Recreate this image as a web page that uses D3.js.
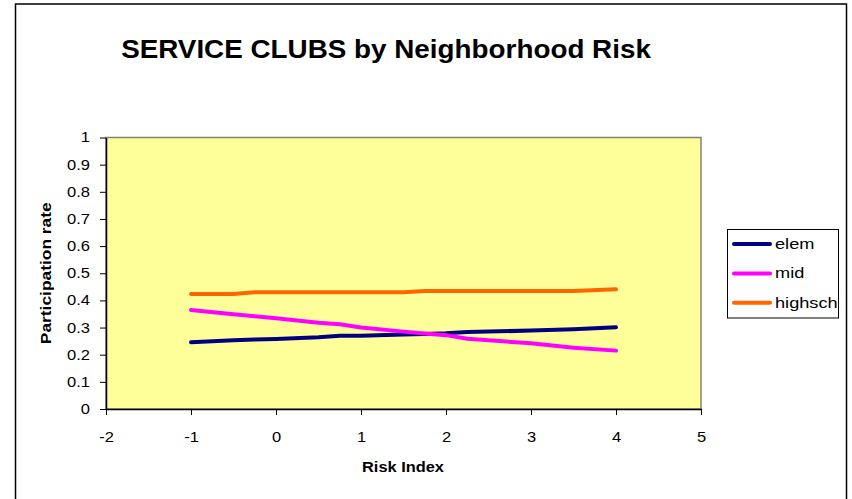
<!DOCTYPE html>
<html>
<head>
<meta charset="utf-8">
<script src="https://cdn.jsdelivr.net/npm/d3@7"></script>
<style>
  html, body { margin: 0; padding: 0; background: #fff; }
  svg { display: block; }
  text { font-family: "Liberation Sans", Arial, sans-serif; }
</style>
</head>
<body>
<svg id="chart" width="852" height="499"></svg>
<script>
const titleText = "SERVICE CLUBS by Neighborhood Risk";
const xLabel = "Risk Index";
const yLabel = "Participation rate";
const seriesNames = ["elem", "mid", "highsch"];
const seriesColors = ["#000080", "#FF00FF", "#FF6600"];
const riskIndex = [-1, -0.5, -0.25, 0, 0.5, 0.75, 1, 1.5, 1.75, 2, 2.25, 2.5, 3, 3.5, 4];
const elem    = [0.246, 0.253, 0.256, 0.258, 0.264, 0.270, 0.270, 0.274, 0.276, 0.279, 0.284, 0.285, 0.289, 0.294, 0.301];
const mid     = [0.365, 0.349, 0.342, 0.334, 0.318, 0.312, 0.300, 0.285, 0.278, 0.272, 0.259, 0.253, 0.242, 0.226, 0.215];
const highsch = [0.424, 0.424, 0.430, 0.430, 0.430, 0.430, 0.430, 0.430, 0.435, 0.435, 0.435, 0.435, 0.435, 0.435, 0.441];
const xTicks = [-2, -1, 0, 1, 2, 3, 4, 5];
const yTicks = [0, 0.1, 0.2, 0.3, 0.4, 0.5, 0.6, 0.7, 0.8, 0.9, 1];

const seriesValues = [elem, mid, highsch];

const svg = d3.select("#chart");

// stretch a text horizontally (in its own frame) to a target length, around its anchor point
function fitLength(sel, target) {
  const len = sel.node().getComputedTextLength();
  return target / len;
}

// outer chart border
svg.append("rect")
  .attr("x", 15.5).attr("y", 4).attr("width", 831).attr("height", 510)
  .attr("fill", "#fff").attr("stroke", "#000").attr("stroke-width", 1.5);

const pLeft = 106, pRight = 701, pTop = 137.5, pBottom = 409;
const x = d3.scaleLinear().domain([-2, 5]).range([pLeft, pRight]);
const y = d3.scaleLinear().domain([0, 1]).range([pBottom, pTop]);

// plot area
svg.append("rect")
  .attr("x", pLeft).attr("y", pTop).attr("width", pRight - pLeft).attr("height", pBottom - pTop)
  .attr("fill", "#FFFF99").attr("stroke", "#808080").attr("stroke-width", 1.5);

// axes
const xAxis = d3.axisBottom(x).tickValues(xTicks).tickFormat(d => String(d)).tickSizeInner(6).tickSizeOuter(0).tickPadding(17);
const yAxis = d3.axisLeft(y).tickValues(yTicks).tickFormat(d => d === 0 ? "0" : d === 1 ? "1" : d3.format(".1f")(d)).tickSizeInner(6).tickSizeOuter(0).tickPadding(10);

const gx = svg.append("g").attr("transform", `translate(0,${pBottom})`).call(xAxis);
const gy = svg.append("g").attr("transform", `translate(${pLeft},0)`).call(yAxis);
const tickStretch = 1.18;
[gx, gy].forEach(g => {
  g.select(".domain").attr("stroke", "#000").attr("stroke-width", 1.5);
  g.selectAll(".tick line").attr("stroke", "#000").attr("stroke-width", 1);
  g.selectAll(".tick text").attr("fill", "#000").style("font-size", "14px")
    .style("font-family", '"Liberation Sans", Arial, sans-serif')
    .each(function() {
      const t = d3.select(this);
      const tx = +t.attr("x") || 0;
      t.attr("x", 0).attr("transform", `translate(${tx},0) scale(${tickStretch},1)`);
    });
});

// lines
const line = d3.line().x((d, i) => x(riskIndex[i])).y(d => y(d));
seriesValues.forEach((vals, k) => {
  svg.append("path")
    .datum(vals)
    .attr("d", line)
    .attr("fill", "none")
    .attr("stroke", seriesColors[k])
    .attr("stroke-width", 4)
    .attr("stroke-linecap", "round")
    .attr("stroke-linejoin", "round");
});

// title
const title = svg.append("text")
  .attr("text-anchor", "middle")
  .style("font-size", "26px").style("font-weight", "bold")
  .text(titleText);
title.attr("transform", `translate(386,58) scale(${fitLength(title, 530)},1)`);

// axis labels
const xl = svg.append("text")
  .attr("text-anchor", "middle")
  .style("font-size", "15px").style("font-weight", "bold")
  .text(xLabel);
xl.attr("transform", `translate(403,472) scale(${fitLength(xl, 82)},1)`);

const yl = svg.append("text")
  .attr("text-anchor", "middle")
  .style("font-size", "15px").style("font-weight", "bold")
  .text(yLabel);
yl.attr("transform", `translate(51,${(pTop + pBottom) / 2}) rotate(-90) scale(${fitLength(yl, 142)},1)`);

// legend
const lg = svg.append("g");
lg.append("rect")
  .attr("x", 727.5).attr("y", 229.5).attr("width", 111).attr("height", 88.5)
  .attr("fill", "#fff").attr("stroke", "#000").attr("stroke-width", 1);
seriesNames.forEach((name, k) => {
  const ly = 244 + k * 29.4;
  lg.append("line")
    .attr("x1", 734).attr("x2", 770).attr("y1", ly).attr("y2", ly)
    .attr("stroke", seriesColors[k]).attr("stroke-width", 4).attr("stroke-linecap", "round");
  lg.append("text")
    .attr("transform", `translate(775,${ly + 5}) scale(1.3,1)`)
    .style("font-size", "14px")
    .text(name);
});
</script>
</body>
</html>
